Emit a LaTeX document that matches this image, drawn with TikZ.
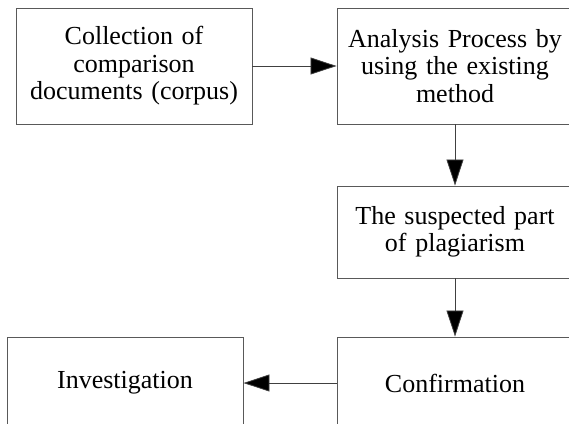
\documentclass[tikz,border=0pt]{standalone}
\usepackage{fontspec}
\setmainfont{Liberation Serif}
\usetikzlibrary{arrows.meta}
\tikzstyle{stage}=[draw=black!65, line width=0.9pt, minimum width=236pt, text width=232pt, align=center, inner sep=0pt, font=\fontsize{26}{27.5}\selectfont]
\tikzstyle{flow}=[draw=black!75, line width=0.8pt, -{Triangle[length=26pt,width=17pt,fill=black]}]

\begin{document}
\begin{tikzpicture}[x=1pt,y=-1pt]
\useasboundingbox (0,0) rectangle (569,423);
\node[stage, minimum height=116pt] (coll) at (134,66) {Collection of\\ comparison\\ documents (corpus)};
\node[stage, minimum height=116pt] (anal) at (455,66) {Analysis Process by\\ using the existing\\ method};
\node[stage, minimum height=92pt] (susp) at (455,232) {The suspected part\\ of plagiarism};
\node[stage, minimum height=92pt] (conf) at (455,383) {Confirmation};
\node[stage, minimum height=92pt] (inv) at (125,383) {Investigation};
\draw[flow] (coll) -- (anal);
\draw[flow] (anal) -- (susp);
\draw[flow] (susp) -- (conf);
\draw[flow] (conf) -- (inv);
\end{tikzpicture}
\end{document}
